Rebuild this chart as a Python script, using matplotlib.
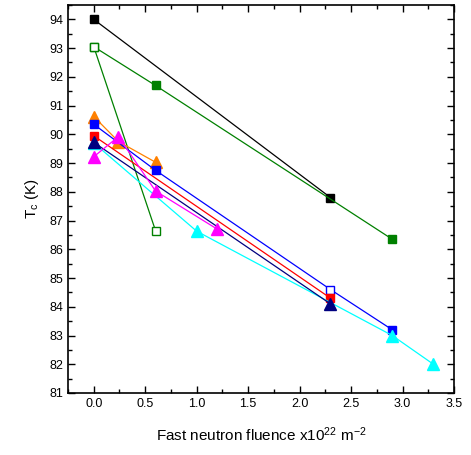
import matplotlib
matplotlib.use("Agg")
import matplotlib.pyplot as plt
from matplotlib.ticker import MultipleLocator

plt.rcParams['font.family'] = ['Liberation Sans', 'DejaVu Sans']
plt.rcParams['mathtext.default'] = 'regular'

black_x = [0.0, 2.3]
black_y = [94.0, 87.8]
green_x = [0.0, 0.6, 2.9]
green_y = [93.05, 91.7, 86.35]
green_open_x = [0.0, 0.6]
green_open_y = [93.05, 86.65]
orange_x = [0.0, 0.24, 0.6]
orange_y = [90.62, 89.75, 89.03]
blue_x = [0.0, 0.6, 2.3, 2.9]
blue_y = [90.35, 88.75, 84.6, 83.2]
red_x = [0.0, 2.3]
red_y = [89.95, 84.3]
navy_x = [0.0, 2.3]
navy_y = [89.72, 84.1]
magenta_x = [0.0, 0.24, 0.6, 1.2]
magenta_y = [89.22, 89.92, 88.03, 86.7]
cyan_x = [0.0, 1.0, 2.9, 3.3]
cyan_y = [89.7, 86.63, 83.0, 82.0]

fig = plt.figure(figsize=(4.71, 4.55), dpi=100)
ax = fig.add_axes([0.1444, 0.1363, 0.8195, 0.8527])

lw = 0.9
ax.plot(black_x, black_y, color='black', lw=lw, marker='s', ms=6, mfc='black', mec='black')
ax.plot(green_x, green_y, color='green', lw=lw, marker='s', ms=6, mfc='green', mec='green')
ax.plot(green_open_x, green_open_y, color='green', lw=lw, marker='s', ms=6, mfc='white', mec='green')
ax.plot(orange_x, orange_y, color='#ff8000', lw=lw, marker='^', ms=8.5, mfc='#ff8000', mec='#ff8000')
ax.plot(blue_x, blue_y, color='blue', lw=lw, marker='s', ms=6, mfc='blue', mec='blue', markevery=[0, 1, 3])
ax.plot(blue_x[2:3], blue_y[2:3], ls='none', marker='s', ms=6, mfc='white', mec='blue')
ax.plot(red_x, red_y, color='red', lw=lw, marker='s', ms=6, mfc='red', mec='red')
ax.plot(cyan_x, cyan_y, color='cyan', lw=lw, marker='^', ms=8.5, mfc='cyan', mec='cyan')
ax.plot(navy_x, navy_y, color='#000080', lw=lw, marker='^', ms=8.5, mfc='#000080', mec='#000080')
ax.plot(magenta_x, magenta_y, color='magenta', lw=lw, marker='^', ms=8.5, mfc='magenta', mec='magenta')

ax.set_xlim(-0.25, 3.5)
ax.set_ylim(81, 94.5)
ax.xaxis.set_major_locator(MultipleLocator(0.5))
ax.xaxis.set_minor_locator(MultipleLocator(0.25))
ax.yaxis.set_major_locator(MultipleLocator(1))
ax.yaxis.set_minor_locator(MultipleLocator(0.5))
ax.xaxis.set_major_formatter(matplotlib.ticker.FormatStrFormatter('%.1f'))
ax.tick_params(which='both', direction='in', top=True, right=True, labelsize=9, width=1)
ax.tick_params(which='major', length=5)
ax.tick_params(which='minor', length=3)
for s in ax.spines.values():
    s.set_linewidth(1.2)

ax.set_xlabel('Fast neutron fluence x10$^{22}$ m$^{-2}$', fontsize=11, labelpad=11)
ax.set_ylabel('T$_{c}$ (K)', fontsize=11, labelpad=6)

fig.savefig('out.png', dpi=100)
